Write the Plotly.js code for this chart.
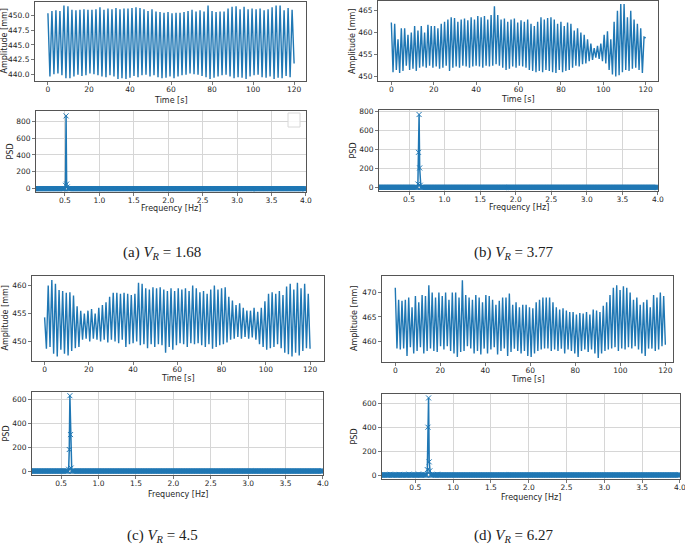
<!DOCTYPE html>
<html>
<head>
<meta charset="utf-8">
<script src="https://cdn.plot.ly/plotly-3.0.1.min.js"></script>
<style>
  body { margin: 0; background: white; }
  #chart { width: 685px; height: 545px; }
</style>
</head>
<body>
<div id="chart"></div>
<script>
// ---- time series: peak and trough of each oscillation cycle ----
var durationS = 120;

// (a) V_R = 1.68
var peaksA = [450.3, 450.7, 450.8, 450.7, 451.6, 451.5, 450.9, 450.8, 450.9, 451.0,
  450.9, 450.9, 451.0, 451.3, 450.9, 451.1, 451.0, 451.2, 451.0, 451.1,
  451.1, 451.2, 451.3, 451.2, 451.0, 450.7, 451.0, 450.6, 450.5, 450.4,
  450.5, 450.3, 450.4, 450.4, 450.5, 450.7, 450.9, 450.6, 450.8, 450.6,
  451.6, 450.7, 450.5, 450.6, 450.6, 451.1, 451.4, 451.5, 451.0, 451.4,
  451.0, 451.1, 451.0, 451.1, 450.8, 451.0, 451.3, 451.6, 451.6, 450.8,
  451.2, 450.9];
var troughsA = [439.7, 440.1, 440.2, 439.9, 439.4, 439.4, 439.7, 440.0, 439.8, 439.9,
  440.2, 440.1, 439.9, 439.7, 439.6, 439.9, 439.7, 439.3, 439.4, 439.3,
  439.5, 439.8, 439.6, 439.9, 440.0, 439.7, 439.9, 439.6, 439.4, 439.5,
  439.7, 439.4, 439.7, 439.9, 440.0, 440.2, 440.1, 440.0, 439.8, 439.6,
  439.3, 439.5, 439.7, 439.9, 440.0, 439.7, 439.4, 439.6, 439.5, 439.3,
  439.7, 439.9, 440.0, 439.6, 439.5, 439.7, 439.3, 439.5, 439.4, 439.8,
  439.6, 441.9];

// (b) V_R = 3.77
var peaksB = [462.3, 462.0, 458.5, 461.0, 461.0, 459.5, 460.0,
  461.5, 460.5, 461.5, 460.0, 461.8, 461.5,
  461.5, 461.0, 462.0, 462.5, 463.0, 463.5, 463.3,
  462.5, 463.0, 463.2, 462.8, 463.5, 463.0,
  463.8, 463.5, 463.8, 463.0, 464.0, 466.0, 464.0,
  463.0, 463.2, 462.5, 463.0, 463.2, 462.3,
  462.8, 462.5, 463.0, 462.0, 461.5, 462.5,
  463.5, 463.0, 463.3, 463.5, 463.0, 462.0, 462.5,
  461.5, 462.3, 462.0, 460.5, 461.0, 460.0,
  459.5, 458.5, 457.5, 456.5, 457.0, 457.5, 459.5,
  460.3, 458.5, 462.5, 465.0, 466.5, 466.5,
  463.5, 465.0, 463.0, 462.0, 461.0, 459.0];
var troughsB = [451.0, 451.5, 450.8, 451.3, 452.5, 451.5, 451.8,
  451.3, 452.0, 452.3, 452.0, 452.5, 452.0,
  452.3, 451.8, 452.0, 452.5, 451.3, 452.0, 452.3,
  452.0, 452.5, 452.3, 452.0, 452.3, 452.5,
  452.3, 452.0, 452.5, 452.3, 452.5, 452.8, 452.5,
  452.0, 451.5, 451.8, 452.3, 452.0, 452.5,
  452.3, 452.0, 451.5, 451.3, 451.0, 451.3,
  451.0, 451.5, 451.3, 451.0, 450.8, 451.5, 451.0,
  451.3, 451.5, 452.0, 452.5, 452.3, 452.8,
  453.0, 453.5, 453.8, 454.3, 454.0, 453.5, 453.0,
  451.5, 450.5, 450.0, 450.3, 451.0, 451.5,
  451.3, 451.8, 452.0, 451.5, 450.8, 458.8];

// (c) V_R = 4.5
var peaksC = [454.3, 460.0, 461.0, 460.3, 459.2, 459.0, 458.7,
  458.8, 458.2, 456.3, 455.5, 455.0, 455.5,
  455.8, 455.0, 456.0, 456.5, 457.0, 458.0,
  458.7, 458.7, 458.5, 458.7, 458.5, 458.3,
  458.5, 460.5, 460.3, 459.5, 459.3, 459.7,
  459.5, 459.7, 459.3, 459.0, 459.5, 459.0, 459.5,
  459.3, 459.5, 459.0, 460.0, 459.5, 458.8,
  459.0, 458.5, 459.3, 460.0, 459.3, 459.5,
  459.7, 458.0, 457.3, 456.5, 456.8, 456.0,
  455.5, 455.5, 456.0, 455.3, 456.0, 457.2,
  458.5, 458.8, 458.5, 459.0, 458.3, 459.8,
  460.3, 459.3, 460.5, 459.5, 460.3, 458.5];
var troughsC = [448.7, 449.0, 447.8, 447.3, 448.5, 447.8, 447.5,
  448.3, 448.8, 449.0, 450.3, 450.5, 450.0,
  450.5, 450.3, 450.0, 450.3, 449.8, 450.3,
  450.0, 449.7, 450.3, 449.0, 449.5, 449.7,
  450.0, 449.3, 449.5, 448.8, 449.5, 449.0,
  449.5, 449.3, 448.0, 449.0, 448.5, 449.3, 449.7,
  449.5, 449.0, 449.7, 449.5, 449.7, 449.3,
  449.0, 449.5, 448.7, 449.0, 449.3, 449.5,
  449.8, 450.3, 450.5, 450.8, 450.5, 450.8,
  450.5, 450.7, 450.3, 449.5, 449.0, 448.5,
  448.8, 449.0, 449.5, 448.8, 448.0, 447.7,
  447.3, 448.0, 447.5, 448.3, 448.8, 448.7];

// (d) V_R = 6.27
var peaksD = [471.0, 468.5, 468.3, 468.5, 469.0, 467.0, 469.3,
  468.0, 469.5, 469.3, 471.5, 470.0, 469.0, 470.0,
  469.3, 470.0, 468.5, 470.0, 470.0, 469.0, 472.5,
  469.5, 469.0, 468.5, 469.5, 469.0, 468.0,
  469.5, 469.3, 468.5, 467.5, 468.3, 469.0, 469.0,
  469.8, 467.5, 468.0, 467.0, 467.5, 467.5, 467.0,
  466.8, 468.0, 468.5, 469.0, 469.0, 469.0, 468.0,
  467.0, 466.5, 466.8, 466.3, 466.0, 466.0,
  465.5, 465.8, 465.7, 466.0, 465.5, 466.5, 466.3,
  466.0, 467.3, 468.0, 469.5, 471.0, 471.5, 470.5,
  471.3, 471.0, 470.0, 468.5, 469.0, 467.5,
  468.0, 468.5, 467.0, 469.5, 469.0, 470.0, 469.3];
var troughsD = [458.5, 458.3, 458.5, 457.0, 458.8, 457.5, 458.0,
  458.8, 457.5, 458.0, 458.5, 458.0, 457.8, 459.0,
  458.3, 459.0, 458.0, 457.5, 456.8, 457.8, 458.0,
  459.0, 458.5, 457.5, 458.0, 457.3, 458.5,
  457.5, 458.3, 458.8, 457.3, 458.0, 458.5, 457.0,
  457.8, 458.5, 458.0, 457.5, 458.0, 457.0, 456.8,
  457.5, 458.0, 458.3, 458.5, 458.5, 458.0, 458.3,
  458.0, 458.5, 457.5, 458.3, 458.0, 457.5,
  456.8, 458.0, 458.3, 457.8, 458.3, 457.5, 456.6,
  457.5, 458.0, 458.3, 458.5, 458.8, 458.0, 458.5,
  458.3, 458.8, 458.5, 459.0, 458.3, 457.5,
  457.0, 458.5, 458.5, 458.0, 458.3, 459.0, 459.3];

// ---- PSD: spectrum bins (bin * freqStep Hz) that rise above the zero baseline ----
var freqStep = 1 / 120;
var freqMax = 4.0;
var psdBinsA = [61, 62, 63, 64];
var psdValsA = [40, 865, 55, 20];
var psdBinsB = [75, 76, 77, 78, 79];
var psdValsB = [35, 370, 770, 205, 22];
var psdBinsC = [72, 73, 74, 75, 76];
var psdValsC = [15, 180, 630, 305, 25];
var psdBinsD = [20, 35, 50, 65, 79, 80, 81, 82, 83, 95];
var psdValsD = [6, 5, 7, 8, 45, 400, 645, 110, 35, 6];

var captions = ['(a) <i>V</i><sub><i>R</i></sub> = 1.68', '(b) <i>V</i><sub><i>R</i></sub> = 3.77',
  '(c) <i>V</i><sub><i>R</i></sub> = 4.5', '(d) <i>V</i><sub><i>R</i></sub> = 6.27'];

var blue = '#1f77b4';

// interleave peaks/troughs into a sampled signal over 0..120 s
function signal(peaks, troughs) {
  var y = [];
  for (var i = 0; i < peaks.length; i++) { y.push(peaks[i]); y.push(troughs[i]); }
  var dt = durationS / (y.length - 1);
  var t = y.map(function (v, k) { return k * dt; });
  return {t: t, y: y};
}

// spectrum on the full frequency grid, zero except the listed bins
function spectrum(bins, vals) {
  var n = Math.round(freqMax / freqStep);
  var f = [], p = [];
  for (var k = 0; k <= n; k++) {
    f.push(k * freqStep);
    var j = bins.indexOf(k);
    p.push(j >= 0 ? vals[j] : 0);
  }
  return {f: f, p: p};
}

var series = [signal(peaksA, troughsA), signal(peaksB, troughsB),
  signal(peaksC, troughsC), signal(peaksD, troughsD)];
var spectra = [spectrum(psdBinsA, psdValsA), spectrum(psdBinsB, psdValsB),
  spectrum(psdBinsC, psdValsC), spectrum(psdBinsD, psdValsD)];

// panel boxes in pixels [x0, x1, y0, y1] and axis ranges
var W = 685, H = 545;
var timeBoxes = [[35, 306, 2, 81], [378, 658, 1, 81], [32, 324, 276, 361], [382, 673, 276, 362]];
var psdBoxes = [[36, 306, 111, 192], [379, 658, 110, 191], [32, 323, 392, 475], [382, 680, 394, 479]];
var timeX = [[-6.3, 125.8], [-6.3, 125.8], [-5.7, 126.3], [-5.9, 123.4]];
var timeY = [[438.95, 452.2], [449.0, 467.2], [446.5, 461.7], [455.75, 473.4]];
var timeDtick = [2.5, 5, 5, 5];
var timeFmt = ['.1f', '', '', ''];
var psdX = [[0.08, 4.001], [0.078, 4.001], [0.11, 4.001], [0.059, 4.001]];
var psdY = [[-40, 923], [-39, 818], [-33, 661], [-33.5, 678]];
var captionPos = [[162, 253], [514, 253], [162, 536], [514, 536]];
// axis title positions in pixels: [time x-title y, amplitude title x, psd x-title y, psd title x]
var titlePos = [[100, 4, 208, 10], [99, 353, 207, 353], [378, 5, 494, 6], [379, 354, 497, 354]];

var data = [];
var layout = {
  width: W, height: H,
  margin: {l: 0, r: 0, t: 0, b: 0},
  showlegend: false,
  paper_bgcolor: 'white', plot_bgcolor: 'white',
  font: {family: 'DejaVu Sans', size: 7.5, color: '#262626'},
  annotations: [], shapes: []
};

function axisBase(dom, range, standoff) {
  return {
    domain: dom, range: range,
    showline: true, mirror: true, linecolor: '#555', linewidth: 1,
    ticks: 'outside', ticklen: 3, tickwidth: 0.8, tickcolor: '#555',
    ticklabelstandoff: standoff, ticklabeloverflow: 'allow',
    zeroline: false, showgrid: false, fixedrange: true
  };
}

function label(text, x, y, angle) {
  layout.annotations.push({
    text: text, xref: 'paper', yref: 'paper', x: x / W, y: 1 - y / H,
    xanchor: 'center', yanchor: 'middle', showarrow: false, textangle: angle || 0,
    font: {family: 'DejaVu Sans', size: 8, color: '#262626'}
  });
}

for (var i = 0; i < 4; i++) {
  var a = 2 * i + 1, b = 2 * i + 2;
  var tb = timeBoxes[i], pb = psdBoxes[i], tp = titlePos[i];

  data.push({
    x: series[i].t, y: series[i].y, type: 'scatter', mode: 'lines',
    line: {color: blue, width: 1.4}, xaxis: 'x' + a, yaxis: 'y' + a, hoverinfo: 'skip'
  });
  data.push({
    x: spectra[i].f, y: spectra[i].p, type: 'scatter', mode: 'lines+markers',
    line: {color: blue, width: 1.5},
    marker: {symbol: 'x-thin', size: 5, line: {color: blue, width: 1}},
    xaxis: 'x' + b, yaxis: 'y' + b, hoverinfo: 'skip'
  });

  var xa = axisBase([tb[0] / W, tb[1] / W], timeX[i], -2);
  xa.dtick = 20; xa.tick0 = 0;
  xa.anchor = 'y' + a;
  var ya = axisBase([1 - tb[3] / H, 1 - tb[2] / H], timeY[i], 0);
  ya.dtick = timeDtick[i]; ya.tick0 = 0;
  if (timeFmt[i]) ya.tickformat = timeFmt[i];
  ya.anchor = 'x' + a;

  var xb = axisBase([pb[0] / W, pb[1] / W], psdX[i], -2);
  xb.dtick = 0.5; xb.tick0 = 0; xb.tickformat = '.1f';
  xb.showgrid = true; xb.gridcolor = '#d6d6d6'; xb.gridwidth = 1;
  xb.anchor = 'y' + b;
  var yb = axisBase([1 - pb[3] / H, 1 - pb[2] / H], psdY[i], 0);
  yb.dtick = 200; yb.tick0 = 0;
  yb.showgrid = true; yb.gridcolor = '#d6d6d6'; yb.gridwidth = 1;
  yb.anchor = 'x' + b;

  layout['xaxis' + a] = xa; layout['yaxis' + a] = ya;
  layout['xaxis' + b] = xb; layout['yaxis' + b] = yb;

  label('Time [s]', (tb[0] + tb[1]) / 2, tp[0]);
  label('Amplitude [mm]', tp[1], (tb[2] + tb[3]) / 2, -90);
  label('Frequency [Hz]', (pb[0] + pb[1]) / 2, tp[2]);
  label('PSD', tp[3], (pb[2] + pb[3]) / 2, -90);

  layout.annotations.push({
    text: captions[i], xref: 'paper', yref: 'paper',
    x: captionPos[i][0] / W, y: 1 - captionPos[i][1] / H,
    xanchor: 'center', yanchor: 'middle', showarrow: false,
    font: {family: 'Liberation Serif', size: 15, color: '#222'}
  });
}

// empty legend box in panel (a) PSD
layout.shapes.push({
  type: 'rect', xref: 'paper', yref: 'paper',
  x0: 288 / W, x1: 300 / W, y0: 1 - 127 / H, y1: 1 - 113 / H,
  line: {color: '#d8d8d8', width: 1}, fillcolor: 'rgba(255,255,255,0.8)'
});

Plotly.newPlot('chart', data, layout, {displayModeBar: false, staticPlot: true});
</script>
</body>
</html>
